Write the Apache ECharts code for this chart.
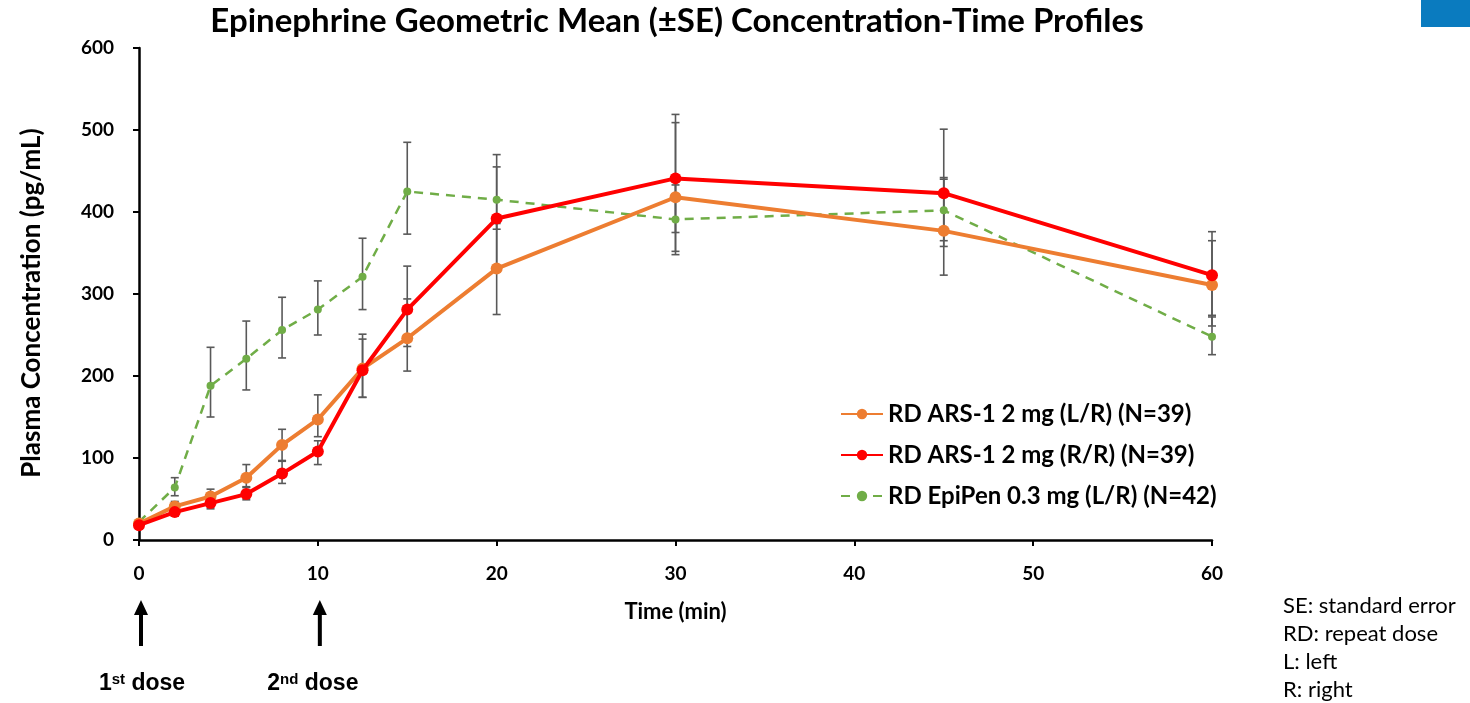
<!DOCTYPE html>
<html>
<head>
<meta charset="utf-8">
<script src="https://cdn.jsdelivr.net/npm/echarts@6/dist/echarts.min.js"></script>
<style>
html,body{margin:0;padding:0;background:#fff;}
#main{width:1470px;height:703px;}
</style>
</head>
<body>
<div id="main"></div>
<script>
const times = [0, 2, 4, 6, 8, 10, 12.5, 15, 20, 30, 45, 60];

const lrMean  = [20, 41, 53, 76, 116, 147, 209, 246, 331, 418, 377, 311];
const lrLow   = [18, 35, 45, 65, 97, 126, 174, 206, 275, 348, 323, 261];
const lrHigh  = [22, 47, 62, 92, 135, 177, 251, 294, 386, 509, 440, 365];

const rrMean  = [18, 34, 45, 56, 81, 108, 207, 281, 392, 441, 423, 323];
const rrLow   = [16, 29, 38, 49, 69, 92, 174, 236, 330, 375, 358, 274];
const rrHigh  = [20, 39, 52, 64, 96, 121, 245, 334, 470, 519, 501, 376];

const epMean  = [22, 64, 188, 221, 256, 281, 321, 425, 415, 391, 402, 248];
const epLow   = [20, 54, 150, 183, 222, 250, 281, 373, 379, 352, 365, 226];
const epHigh  = [24, 76, 235, 267, 296, 316, 368, 485, 455, 433, 442, 272];

const seriesNames = [
  'RD ARS-1 2 mg (L/R) (N=39)',
  'RD ARS-1 2 mg (R/R) (N=39)',
  'RD EpiPen 0.3 mg (L/R) (N=42)'
];
const xTicks = [0, 10, 20, 30, 40, 50, 60];
const yTicks = [0, 100, 200, 300, 400, 500, 600];
const doseTimes = [0, 10];
const doseLabels = ['1st', '2nd'];
const notes = ['SE: standard error', 'RD: repeat dose', 'L: left', 'R: right'];

function pairs(m) { return times.map((t, i) => [t, m[i]]); }
function bars(lo, hi) { return times.map((t, i) => [t, lo[i], hi[i]]); }

function errRender(params, api) {
  const lo = api.coord([api.value(0), api.value(1)]);
  const hi = api.coord([api.value(0), api.value(2)]);
  const w = 4;
  const st = { stroke: '#595959', lineWidth: 1.6 };
  return {
    type: 'group',
    children: [
      { type: 'line', shape: { x1: lo[0], y1: lo[1], x2: hi[0], y2: hi[1] }, style: st },
      { type: 'line', shape: { x1: lo[0] - w, y1: lo[1], x2: lo[0] + w, y2: lo[1] }, style: st },
      { type: 'line', shape: { x1: hi[0] - w, y1: hi[1], x2: hi[0] + w, y2: hi[1] }, style: st }
    ]
  };
}

const chart = echarts.init(document.getElementById('main'));
const font = 'Lato, "Open Sans", sans-serif';

const option = {
  backgroundColor: '#ffffff',
  animation: false,
  title: {
    text: 'Epinephrine Geometric Mean (\u00B1SE) Concentration-Time Profiles',
    left: 672, top: 0, textAlign: 'center',
    textStyle: { fontFamily: font, fontWeight: 'bold', fontSize: 33, color: '#000' }
  },
  grid: { left: 139, right: 258, top: 48, bottom: 163 },
  legend: {
    data: seriesNames,
    orient: 'vertical',
    left: 840, top: 402, padding: 0,
    itemWidth: 42, itemHeight: 13, itemGap: 17,
    textStyle: { fontFamily: font, fontWeight: 'bold', fontSize: 24, color: '#000' }
  },
  xAxis: {
    type: 'value', min: 0, max: 60, interval: 10,
    name: 'Time (min)', nameLocation: 'middle', nameGap: 61,
    nameTextStyle: { fontFamily: font, fontWeight: 'bold', fontSize: 22, color: '#000' },
    axisLine: { lineStyle: { color: '#000', width: 2.5 } },
    axisTick: { show: true, length: 6, lineStyle: { color: '#000', width: 2 } },
    axisLabel: { margin: 24, fontFamily: font, fontWeight: 'bold', fontSize: 19, color: '#000',
      formatter: v => xTicks.includes(v) ? String(v) : '' },
    splitLine: { show: false }
  },
  yAxis: {
    type: 'value', min: 0, max: 600, interval: 100,
    name: 'Plasma Concentration (pg/mL)', nameLocation: 'middle', nameGap: 94, nameRotate: 90,
    nameTextStyle: { fontFamily: font, fontWeight: 'bold', fontSize: 26, color: '#000', padding: [0, 18, 0, 0] },
    axisLine: { show: true, lineStyle: { color: '#000', width: 2.5 } },
    axisTick: { show: true, length: 6, lineStyle: { color: '#000', width: 2 } },
    axisLabel: { margin: 25, fontFamily: font, fontWeight: 'bold', fontSize: 19, color: '#000',
      formatter: v => yTicks.includes(v) ? String(v) : '' },
    splitLine: { show: false }
  },
  series: [
    { type: 'custom', name: 'errLR', renderItem: errRender, data: bars(lrLow, lrHigh), encode: { x: 0, y: [1, 2] }, z: 1, silent: true },
    { type: 'custom', name: 'errRR', renderItem: errRender, data: bars(rrLow, rrHigh), encode: { x: 0, y: [1, 2] }, z: 1, silent: true },
    { type: 'custom', name: 'errEP', renderItem: errRender, data: bars(epLow, epHigh), encode: { x: 0, y: [1, 2] }, z: 1, silent: true },
    {
      type: 'line', name: seriesNames[2], data: pairs(epMean), z: 3,
      symbol: 'circle', symbolSize: 8, showAllSymbol: true,
      itemStyle: { color: '#70AD47' },
      lineStyle: { color: '#70AD47', width: 2.5, type: [9, 7] }
    },
    {
      type: 'line', name: seriesNames[0], data: pairs(lrMean), z: 4,
      symbol: 'circle', symbolSize: 12, showAllSymbol: true,
      itemStyle: { color: '#ED7D31' },
      lineStyle: { color: '#ED7D31', width: 4 }
    },
    {
      type: 'line', name: seriesNames[1], data: pairs(rrMean), z: 5,
      symbol: 'circle', symbolSize: 12, showAllSymbol: true,
      itemStyle: { color: '#FF0000' },
      lineStyle: { color: '#FF0000', width: 4 }
    }
  ]
};
chart.setOption(option);

// annotations: arrows at dose times, notes, corner box
const graphics = [
  { type: 'rect', shape: { x: 1421, y: 0, width: 49, height: 27 }, style: { fill: '#0A7BBF' } }
];
const textOffsets = [3, -5];
doseTimes.forEach((t, i) => {
  const px = chart.convertToPixel({ gridIndex: 0 }, [t, 0])[0];
  const ax = px + 2;
  graphics.push({ type: 'line', shape: { x1: ax, y1: 646, x2: ax, y2: 610 }, style: { stroke: '#000', lineWidth: 4 } });
  graphics.push({ type: 'polygon', shape: { points: [[ax - 7, 615], [ax + 7, 615], [ax, 600]] }, style: { fill: '#000' } });
  graphics.push({
    type: 'text', x: px + textOffsets[i], y: 684,
    style: {
      text: '{n|' + doseLabels[i].charAt(0) + '}{s|' + doseLabels[i].slice(1) + '}{n| dose}',
      align: 'center', verticalAlign: 'middle',
      rich: {
        n: { fontFamily: '"Liberation Sans", Arial, sans-serif', fontWeight: 'bold', fontSize: 23, fill: '#000' },
        s: { fontFamily: '"Liberation Sans", Arial, sans-serif', fontWeight: 'bold', fontSize: 15, fill: '#000', verticalAlign: 'top', padding: [0, 0, 9, 0] }
      }
    }
  });
});
notes.forEach((n, i) => {
  graphics.push({
    type: 'text', x: 1283, y: 606 + i * 28,
    style: { text: n, fontFamily: font, fontSize: 22, fill: '#000', verticalAlign: 'middle' }
  });
});
chart.setOption({ graphic: graphics });
</script>
</body>
</html>
